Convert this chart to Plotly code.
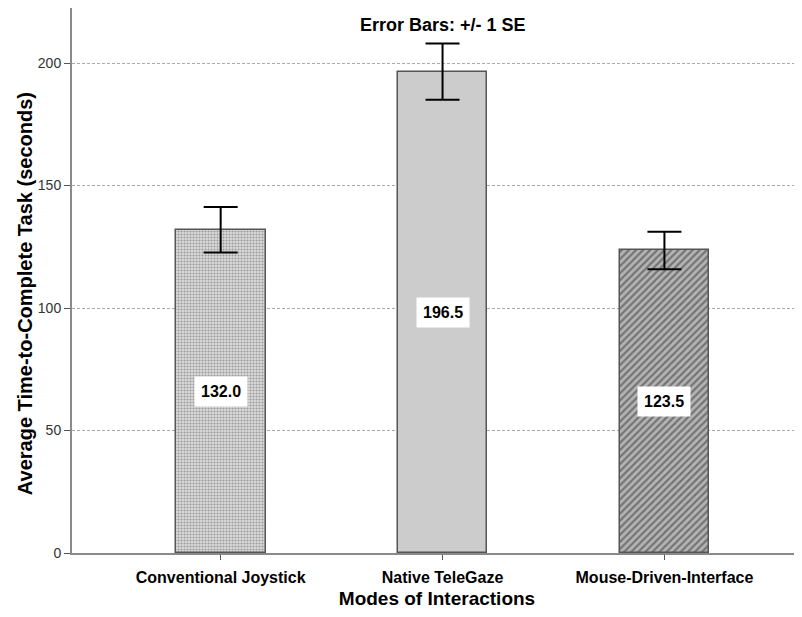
import plotly.graph_objects as go

categories = ["Conventional Joystick", "Native TeleGaze", "Mouse-Driven-Interface"]
means = [132.0, 196.5, 123.5]
se = [9.3, 11.5, 7.7]
value_labels = ["132.0", "196.5", "123.5"]
y_ticks = [0, 50, 100, 150, 200]

FONT = "Arial, Liberation Sans, sans-serif"

patterns = [
    dict(shape=".", fgcolor="#5a5a5a", bgcolor="#dadada", size=3, solidity=0.4),
    dict(shape="", fgcolor="#cccccc", bgcolor="#cccccc"),
    dict(shape="/", fgcolor="#333333", bgcolor="#b4b4b4", size=5, solidity=0.45),
]
fills = ["#dcdcdc", "#cccccc", "#9a9a9a"]

fig = go.Figure()
for i, c in enumerate(categories):
    fig.add_trace(go.Bar(
        x=[i], y=[means[i]], width=0.405,
        marker=dict(color=fills[i], line=dict(color="#555555", width=1.5), pattern=patterns[i]),
        error_y=dict(type="data", array=[se[i]], visible=True, color="#000000", thickness=2, width=17),
        showlegend=False, hoverinfo="skip",
    ))
    fig.add_annotation(x=i, y=means[i] / 2, text="<b>" + value_labels[i] + "</b>", showarrow=False,
                       bgcolor="#ffffff", borderpad=6,
                       font=dict(family=FONT, size=16, color="#000000"))

fig.add_annotation(x=1.0, y=1.0, xref="x", yref="paper", yanchor="middle", yshift=-17, showarrow=False,
                   text="<b>Error Bars: +/- 1 SE</b>",
                   font=dict(family=FONT, size=18, color="#000000"))

# y-axis title placed as rotated annotation
fig.add_annotation(x=0, y=0.475, xref="paper", yref="paper", xanchor="center", yanchor="middle",
                   xshift=-47, textangle=-90, showarrow=False,
                   text="<b>Average Time-to-Complete Task (seconds)</b>",
                   font=dict(family=FONT, size=20, color="#000000"))

fig.update_layout(
    width=794, height=601,
    margin=dict(l=64, r=0, t=0, b=56),
    plot_bgcolor="#ffffff", paper_bgcolor="#ffffff",
    font=dict(family=FONT, color="#000000"),
    bargap=0,
)
fig.update_xaxes(
    range=[-0.67, 2.62], tickvals=list(range(len(categories))),
    ticktext=["<b>" + c + "</b>" for c in categories],
    tickfont=dict(size=16, color="#000000"), ticks="outside", ticklen=5, tickcolor="#555555",
    ticklabelstandoff=4,
    showline=True, linecolor="#8a8a8a", linewidth=2, showgrid=False, zeroline=False,
    automargin=False,
    title=dict(text="<b>Modes of Interactions</b>", font=dict(size=19), standoff=16),
)
fig.update_yaxes(
    range=[0, 222.5], tickvals=y_ticks, ticks="outside", ticklen=6, tickcolor="#555555",
    tickfont=dict(size=14, color="#333333"),
    showline=True, linecolor="#8a8a8a", linewidth=2,
    showgrid=True, gridcolor="#aaaaaa", griddash="3px,2px", gridwidth=1, zeroline=False,
    automargin=False,
)
fig.write_html("out.html")
